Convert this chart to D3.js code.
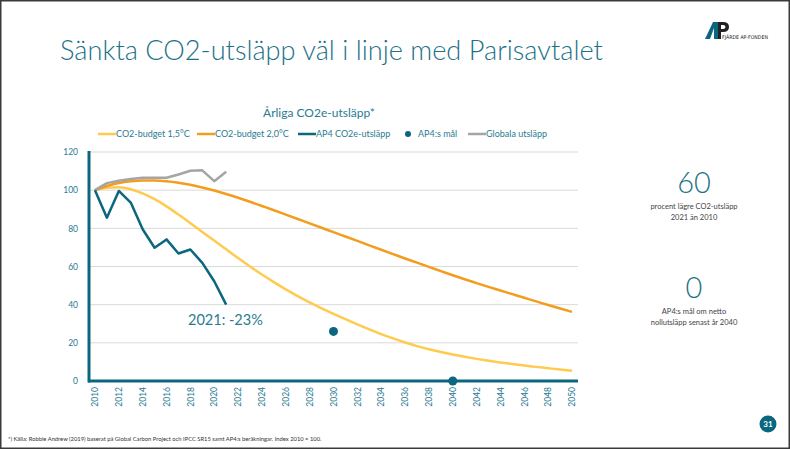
<!DOCTYPE html>
<html>
<head>
<meta charset="utf-8">
<script src="https://cdn.jsdelivr.net/npm/d3@7"></script>
<style>
  body { margin: 0; background: #fff; }
  svg { display: block; font-family: Lato, "Open Sans", sans-serif; }
</style>
</head>
<body>
<div id="chart"></div>
<script>
// data (index 2010 = 100)
var years = d3.range(2010, 2051);
var histYears = d3.range(2010, 2022);
var budget15 = [100, 101.2, 101.5, 100.5, 98.3, 95.3, 91.5, 87.2, 82.7, 78.1, 73.6, 69, 64.4, 60, 55.8, 51.8, 48, 44.5, 41.2, 38.1,
  35.2, 32.4, 29.7, 27.1, 24.6, 22.3, 20.2, 18.3, 16.6, 15.2, 13.9, 12.7, 11.6, 10.6, 9.7, 8.9, 8.1, 7.4, 6.7, 6, 5.4];
var budget20 = [100, 102.2, 103.8, 104.7, 105.1, 105.1, 104.7, 103.9, 102.8, 101.4, 99.8, 98, 96, 93.9, 91.7, 89.5, 87.2, 84.9, 82.6, 80.3,
  78, 75.7, 73.4, 71.1, 68.8, 66.5, 64.2, 62, 59.8, 57.6, 55.4, 53.3, 51.3, 49.3, 47.4, 45.5, 43.6, 41.7, 39.8, 38, 36.2];
var ap4 = [100, 85.6, 99.6, 93.5, 79.5, 69.8, 74.2, 66.8, 68.9, 61.9, 52.3, 40];
var global = [100, 103.7, 104.9, 105.8, 106.5, 106.5, 106.5, 108.2, 110.2, 110.4, 104.7, 109.6];
var goalYears = [2030, 2040];
var goalValues = [26, 0];
var yTicks = [0, 20, 40, 60, 80, 100, 120];
var legendLabels = ['CO2-budget 1,5°C', 'CO2-budget 2,0°C', 'AP4 CO2e-utsläpp', 'AP4:s mål', 'Globala utsläpp'];

var teal = '#0b6680', textTeal = '#2a7b92', orange = '#f39c1e', yellow = '#ffcb4f', grey = '#a5a5a5';

var W = 790, H = 449;
var svg = d3.select('#chart').append('svg').attr('width', W).attr('height', H);

svg.append('rect').attr('x', 0.75).attr('y', 0.75).attr('width', W - 1.5).attr('height', H - 1.5)
  .attr('fill', '#fff').attr('stroke', '#3a3a3a').attr('stroke-width', 1.5);

// title
svg.append('text').attr('x', 60).attr('y', 60).attr('font-size', 27.2).attr('fill', '#1d7187')
  .attr('font-weight', 300).text('Sänkta CO2-utsläpp väl i linje med Parisavtalet');

// logo
var logo = svg.append('g').attr('transform', 'translate(705,22)');
logo.append('path').attr('d', 'M0,17 L8,0 L13,0 L13,17 L9,17 L9,6 L5,17 Z').attr('fill', teal);
logo.append('path').attr('d', 'M13,0 L18,0 Q24,0 24,5 Q24,10 18,10 L16,10 L16,17 L13,17 Z M16,3 L16,7 L18,7 Q20.5,7 20.5,5 Q20.5,3 18,3 Z')
  .attr('fill', '#222').attr('fill-rule', 'evenodd');
logo.append('text').attr('x', 17).attr('y', 16.5).attr('font-size', 5.2).attr('fill', '#222')
  .attr('font-family', '"DejaVu Sans Condensed", sans-serif').text('FJÄRDE AP-FONDEN');

var x = d3.scalePoint().domain(years).range([89, 578]).padding(0.5);
var y = d3.scaleLinear().domain([0, 120]).range([381, 152]);

// chart title and legend
svg.append('text').attr('x', 319).attr('y', 117).attr('text-anchor', 'middle').attr('font-size', 12)
  .attr('fill', textTeal).text('Årliga CO2e-utsläpp*');

var legendX = [98, 197, 298, 404, 468];
var legendColors = [yellow, orange, teal, teal, grey];
var leg = svg.append('g').selectAll('g').data(legendLabels).enter().append('g')
  .attr('transform', function(d, i) { return 'translate(' + legendX[i] + ',134)'; });
leg.each(function(d, i) {
  var g = d3.select(this);
  if (i === 3) {
    g.append('circle').attr('cx', 4).attr('cy', 0).attr('r', 3).attr('fill', teal);
    g.append('text').attr('x', 14).attr('y', 3).attr('font-size', 9).attr('fill', textTeal).text(d);
  } else {
    g.append('line').attr('x1', 0).attr('x2', 18).attr('y1', 0).attr('y2', 0)
      .attr('stroke', legendColors[i]).attr('stroke-width', 2.5);
    g.append('text').attr('x', 18).attr('y', 3).attr('font-size', 9).attr('fill', textTeal).text(d);
  }
});

// grid
svg.append('g').selectAll('line').data(yTicks.slice(1)).enter().append('line')
  .attr('x1', 89).attr('x2', 578)
  .attr('y1', function(d) { return y(d); }).attr('y2', function(d) { return y(d); })
  .attr('stroke', '#d9d9d9').attr('stroke-width', 1);

// y axis
var yAxis = svg.append('g').attr('transform', 'translate(89,0)')
  .call(d3.axisLeft(y).tickValues(yTicks).tickSize(0).tickPadding(11));
yAxis.select('.domain').remove();
yAxis.selectAll('text').attr('font-size', 8.5).attr('fill', textTeal).attr('font-family', 'Lato, sans-serif');

// x axis
var xAxis = svg.append('g').attr('transform', 'translate(0,381)')
  .call(d3.axisBottom(x).tickValues(years.filter(function(d) { return d % 2 === 0; })).tickSize(0).tickPadding(0));
xAxis.select('.domain').remove();
xAxis.selectAll('text').attr('font-size', 8.5).attr('fill', textTeal).attr('font-family', 'Lato, sans-serif')
  .attr('text-anchor', 'end').attr('transform', 'translate(0,6) rotate(-90)').attr('dy', '0.32em').attr('y', 0).attr('x', 0);

var line = d3.line().curve(d3.curveMonotoneX)
  .x(function(d) { return x(d[0]); }).y(function(d) { return y(d[1]); });
var straight = d3.line()
  .x(function(d) { return x(d[0]); }).y(function(d) { return y(d[1]); });

svg.append('path').datum(d3.zip(years, budget15)).attr('d', line)
  .attr('fill', 'none').attr('stroke', yellow).attr('stroke-width', 2.5);
svg.append('path').datum(d3.zip(years, budget20)).attr('d', line)
  .attr('fill', 'none').attr('stroke', orange).attr('stroke-width', 2.5);
svg.append('path').datum(d3.zip(histYears, global)).attr('d', straight)
  .attr('fill', 'none').attr('stroke', grey).attr('stroke-width', 2.5).attr('stroke-linejoin', 'round');
svg.append('path').datum(d3.zip(histYears, ap4)).attr('d', straight)
  .attr('fill', 'none').attr('stroke', teal).attr('stroke-width', 2.5).attr('stroke-linejoin', 'round');

// axis lines (thick, teal)
svg.append('line').attr('x1', 89).attr('x2', 89).attr('y1', y(120) - 1).attr('y2', y(0) + 1.5)
  .attr('stroke', teal).attr('stroke-width', 3);
svg.append('line').attr('x1', 88).attr('x2', 578).attr('y1', y(0)).attr('y2', y(0))
  .attr('stroke', teal).attr('stroke-width', 3);

svg.append('g').selectAll('circle').data(d3.zip(goalYears, goalValues)).enter().append('circle')
  .attr('cx', function(d) { return x(d[0]); }).attr('cy', function(d) { return y(d[1]); })
  .attr('r', 4.5).attr('fill', teal);

svg.append('text').attr('x', 188).attr('y', 325).attr('font-size', 14.5).attr('fill', textTeal)
  .text('2021: -23%');

// side figures
var side = [
  { big: '60', y: 193, lines: ['procent lägre CO2-utsläpp', '2021 än 2010'], ly: 209 },
  { big: '0', y: 298, lines: ['AP4:s mål om netto', 'nollutsläpp senast år 2040'], ly: 314 }
];
side.forEach(function(s) {
  svg.append('text').attr('x', 694).attr('y', s.y).attr('text-anchor', 'middle')
    .attr('font-size', 29).attr('font-weight', 300).attr('fill', '#1d7187').text(s.big);
  s.lines.forEach(function(t, i) {
    svg.append('text').attr('x', 694).attr('y', s.ly + i * 11).attr('text-anchor', 'middle')
      .attr('font-size', 7.5).attr('fill', '#444').text(t);
  });
});

// page number
svg.append('circle').attr('cx', 768).attr('cy', 424).attr('r', 8.5).attr('fill', teal);
svg.append('text').attr('x', 768).attr('y', 427).attr('text-anchor', 'middle').attr('font-size', 8)
  .attr('font-weight', 'bold').attr('fill', '#fff').text('31');

// footnote
svg.append('text').attr('x', 8).attr('y', 441).attr('font-size', 5.8).attr('fill', '#333')
  .text('*) Källa: Robbie Andrew (2019) baserat på Global Carbon Project och IPCC SR15 samt AP4:s beräkningar. Index 2010 = 100.');
</script>
</body>
</html>
